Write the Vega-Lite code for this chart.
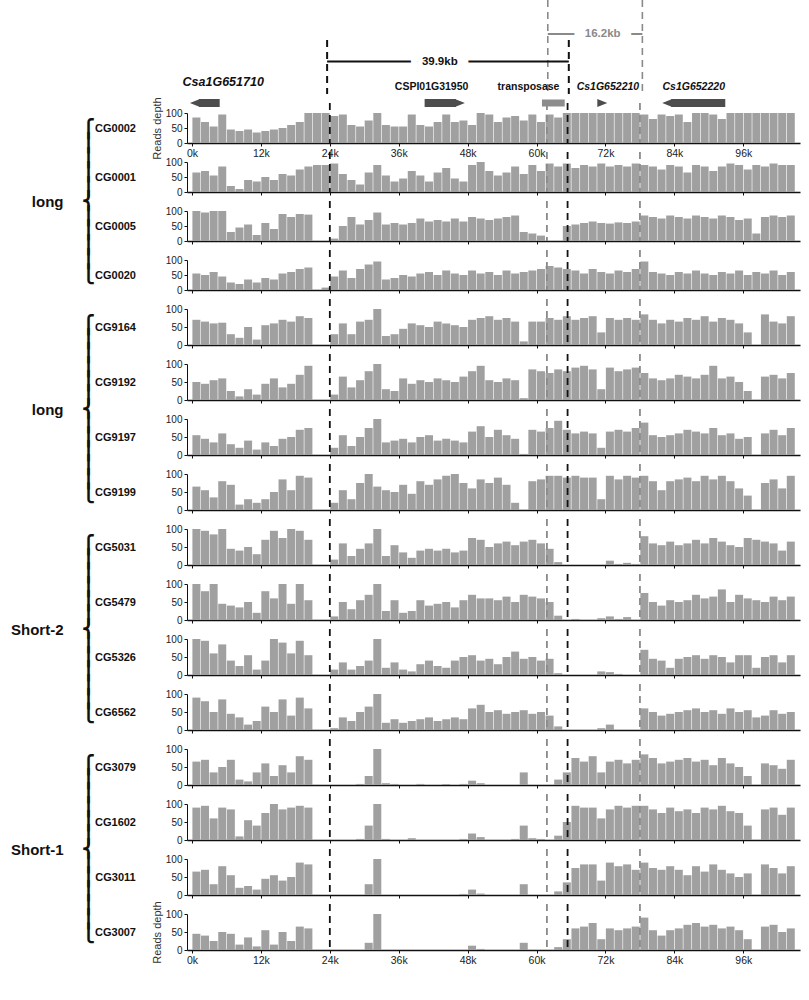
{
"$schema":"https://vega.github.io/schema/vega-lite/v6.json",
"autosize":"none",
"padding":{"left":187,"top":0,"right":622,"bottom":1000},
"background":"white",
"spacing":19,
"bounds":"flush",
"config":{
"view":{"stroke":null},
"font":"Liberation Sans",
"axisX":{"labels":false,"labelFlush":false,"grid":false,"domainColor":"#111","domainWidth":1.6,"tickColor":"#111","tickSize":3,"labelFontSize":10.5,"labelColor":"#222","labelPadding":2,"titleAngle":0,"titleAlign":"center","titleBaseline":"middle","titleFontWeight":"bold","titleFontSize":11,"titleColor":"#111"},
"axisY":{"labelFlush":false,"grid":false,"domainColor":"#111","tickColor":"#111","tickSize":3,"labelFontSize":10,"labelColor":"#222","labelPadding":2,"titleFontWeight":"normal","titleFontSize":11,"titleColor":"#333","titlePadding":3}
},
"datasets":{
"cuts":[{"pos":24,"k":"b"},{"pos":61.8,"k":"g"},{"pos":65.4,"k":"b"},{"pos":78,"k":"g"}],
"genes":[{"gene":"Csa1G651710","start":0.5,"end":5.6,"strand":"-","at":6.2},{"gene":"CSPI01G31950","start":40.7,"end":47.6,"strand":"+","at":41.9},{"gene":"transposase","start":60.8,"end":64.7,"strand":".","at":58.5},{"gene":"Cs1G652210","start":71.4,"end":72.0,"strand":"+","at":72.1},{"gene":"Cs1G652220","start":81.4,"end":92.2,"strand":"-","at":86.8}],
"brackets":[{"label":"39.9kb","start":24,"end":65.4,"at":43.3},{"label":"16.2kb","start":61.8,"end":78,"at":71.2}],
"CG0002":[{"x":0,"y":85},{"x":1.5,"y":70},{"x":3,"y":55},{"x":4.5,"y":95},{"x":6,"y":45},{"x":7.5,"y":40},{"x":9,"y":45},{"x":10.5,"y":35},{"x":12,"y":40},{"x":13.5,"y":45},{"x":15,"y":50},{"x":16.5,"y":60},{"x":18,"y":70},{"x":19.5,"y":100},{"x":21,"y":100},{"x":22.5,"y":100},{"x":24,"y":90},{"x":25.5,"y":95},{"x":27,"y":60},{"x":28.5,"y":55},{"x":30,"y":75},{"x":31.5,"y":100},{"x":33,"y":60},{"x":34.5,"y":55},{"x":36,"y":55},{"x":37.5,"y":95},{"x":39,"y":60},{"x":40.5,"y":55},{"x":42,"y":70},{"x":43.5,"y":95},{"x":45,"y":70},{"x":46.5,"y":75},{"x":48,"y":60},{"x":49.5,"y":100},{"x":51,"y":95},{"x":52.5,"y":70},{"x":54,"y":85},{"x":55.5,"y":90},{"x":57,"y":75},{"x":58.5,"y":95},{"x":60,"y":70},{"x":61.5,"y":95},{"x":63,"y":85},{"x":64.5,"y":100},{"x":66,"y":100},{"x":67.5,"y":100},{"x":69,"y":100},{"x":70.5,"y":100},{"x":72,"y":100},{"x":73.5,"y":100},{"x":75,"y":100},{"x":76.5,"y":100},{"x":78,"y":95},{"x":79.5,"y":80},{"x":81,"y":95},{"x":82.5,"y":90},{"x":84,"y":95},{"x":85.5,"y":70},{"x":87,"y":100},{"x":88.5,"y":100},{"x":90,"y":95},{"x":91.5,"y":80},{"x":93,"y":100},{"x":94.5,"y":100},{"x":96,"y":100},{"x":97.5,"y":100},{"x":99,"y":100},{"x":100.5,"y":100},{"x":102,"y":100},{"x":103.5,"y":100}],
"CG0001":[{"x":0,"y":65},{"x":1.5,"y":70},{"x":3,"y":55},{"x":4.5,"y":85},{"x":6,"y":20},{"x":7.5,"y":10},{"x":9,"y":40},{"x":10.5,"y":35},{"x":12,"y":50},{"x":13.5,"y":40},{"x":15,"y":60},{"x":16.5,"y":55},{"x":18,"y":75},{"x":19.5,"y":85},{"x":21,"y":90},{"x":22.5,"y":90},{"x":24,"y":95},{"x":25.5,"y":60},{"x":27,"y":40},{"x":28.5,"y":25},{"x":30,"y":65},{"x":31.5,"y":90},{"x":33,"y":55},{"x":34.5,"y":35},{"x":36,"y":45},{"x":37.5,"y":70},{"x":39,"y":55},{"x":40.5,"y":35},{"x":42,"y":65},{"x":43.5,"y":80},{"x":45,"y":45},{"x":46.5,"y":35},{"x":48,"y":90},{"x":49.5,"y":100},{"x":51,"y":70},{"x":52.5,"y":55},{"x":54,"y":65},{"x":55.5,"y":85},{"x":57,"y":60},{"x":58.5,"y":90},{"x":60,"y":70},{"x":61.5,"y":95},{"x":63,"y":85},{"x":64.5,"y":95},{"x":66,"y":80},{"x":67.5,"y":90},{"x":69,"y":85},{"x":70.5,"y":95},{"x":72,"y":85},{"x":73.5,"y":90},{"x":75,"y":85},{"x":76.5,"y":95},{"x":78,"y":90},{"x":79.5,"y":85},{"x":81,"y":75},{"x":82.5,"y":90},{"x":84,"y":85},{"x":85.5,"y":65},{"x":87,"y":90},{"x":88.5,"y":85},{"x":90,"y":70},{"x":91.5,"y":85},{"x":93,"y":95},{"x":94.5,"y":90},{"x":96,"y":75},{"x":97.5,"y":90},{"x":99,"y":85},{"x":100.5,"y":95},{"x":102,"y":90},{"x":103.5,"y":90}],
"CG0005":[{"x":0,"y":100},{"x":1.5,"y":95},{"x":3,"y":100},{"x":4.5,"y":100},{"x":6,"y":30},{"x":7.5,"y":45},{"x":9,"y":55},{"x":10.5,"y":20},{"x":12,"y":60},{"x":13.5,"y":40},{"x":15,"y":90},{"x":16.5,"y":80},{"x":18,"y":90},{"x":19.5,"y":88},{"x":24,"y":8},{"x":25.5,"y":50},{"x":27,"y":80},{"x":28.5,"y":55},{"x":30,"y":70},{"x":31.5,"y":95},{"x":33,"y":55},{"x":34.5,"y":60},{"x":36,"y":55},{"x":37.5,"y":60},{"x":39,"y":75},{"x":40.5,"y":65},{"x":42,"y":70},{"x":43.5,"y":65},{"x":45,"y":75},{"x":46.5,"y":65},{"x":48,"y":80},{"x":49.5,"y":75},{"x":51,"y":70},{"x":52.5,"y":75},{"x":54,"y":80},{"x":55.5,"y":85},{"x":57,"y":30},{"x":58.5,"y":25},{"x":60,"y":18},{"x":64.5,"y":50},{"x":66,"y":55},{"x":67.5,"y":60},{"x":69,"y":65},{"x":70.5,"y":60},{"x":72,"y":58},{"x":73.5,"y":62},{"x":75,"y":60},{"x":76.5,"y":65},{"x":78,"y":85},{"x":79.5,"y":80},{"x":81,"y":75},{"x":82.5,"y":85},{"x":84,"y":80},{"x":85.5,"y":75},{"x":87,"y":85},{"x":88.5,"y":80},{"x":90,"y":75},{"x":91.5,"y":85},{"x":93,"y":80},{"x":94.5,"y":70},{"x":96,"y":75},{"x":97.5,"y":25},{"x":99,"y":80},{"x":100.5,"y":85},{"x":102,"y":80},{"x":103.5,"y":85}],
"CG0020":[{"x":0,"y":55},{"x":1.5,"y":50},{"x":3,"y":60},{"x":4.5,"y":45},{"x":6,"y":25},{"x":7.5,"y":20},{"x":9,"y":35},{"x":10.5,"y":25},{"x":12,"y":40},{"x":13.5,"y":35},{"x":15,"y":55},{"x":16.5,"y":60},{"x":18,"y":70},{"x":19.5,"y":75},{"x":22.5,"y":8},{"x":24,"y":45},{"x":25.5,"y":65},{"x":27,"y":40},{"x":28.5,"y":70},{"x":30,"y":85},{"x":31.5,"y":95},{"x":33,"y":35},{"x":34.5,"y":40},{"x":36,"y":50},{"x":37.5,"y":45},{"x":39,"y":55},{"x":40.5,"y":60},{"x":42,"y":50},{"x":43.5,"y":65},{"x":45,"y":55},{"x":46.5,"y":50},{"x":48,"y":65},{"x":49.5,"y":55},{"x":51,"y":60},{"x":52.5,"y":50},{"x":54,"y":65},{"x":55.5,"y":55},{"x":57,"y":60},{"x":58.5,"y":65},{"x":60,"y":70},{"x":61.5,"y":80},{"x":63,"y":75},{"x":64.5,"y":70},{"x":66,"y":65},{"x":67.5,"y":55},{"x":69,"y":70},{"x":70.5,"y":60},{"x":72,"y":55},{"x":73.5,"y":65},{"x":75,"y":60},{"x":76.5,"y":70},{"x":78,"y":95},{"x":79.5,"y":60},{"x":81,"y":55},{"x":82.5,"y":50},{"x":84,"y":60},{"x":85.5,"y":55},{"x":87,"y":65},{"x":88.5,"y":55},{"x":90,"y":50},{"x":91.5,"y":60},{"x":93,"y":55},{"x":94.5,"y":65},{"x":96,"y":50},{"x":97.5,"y":60},{"x":99,"y":55},{"x":100.5,"y":65},{"x":102,"y":50},{"x":103.5,"y":60}],
"CG9164":[{"x":0,"y":70},{"x":1.5,"y":65},{"x":3,"y":60},{"x":4.5,"y":62},{"x":6,"y":30},{"x":7.5,"y":20},{"x":9,"y":50},{"x":10.5,"y":15},{"x":12,"y":55},{"x":13.5,"y":60},{"x":15,"y":70},{"x":16.5,"y":65},{"x":18,"y":80},{"x":19.5,"y":75},{"x":24,"y":30},{"x":25.5,"y":60},{"x":27,"y":30},{"x":28.5,"y":65},{"x":30,"y":70},{"x":31.5,"y":100},{"x":33,"y":25},{"x":34.5,"y":30},{"x":36,"y":45},{"x":37.5,"y":60},{"x":39,"y":55},{"x":40.5,"y":50},{"x":42,"y":65},{"x":43.5,"y":60},{"x":45,"y":55},{"x":46.5,"y":50},{"x":48,"y":70},{"x":49.5,"y":75},{"x":51,"y":80},{"x":52.5,"y":70},{"x":54,"y":75},{"x":55.5,"y":65},{"x":57,"y":10},{"x":58.5,"y":65},{"x":60,"y":65},{"x":61.5,"y":75},{"x":63,"y":70},{"x":64.5,"y":80},{"x":66,"y":70},{"x":67.5,"y":75},{"x":69,"y":80},{"x":70.5,"y":35},{"x":72,"y":75},{"x":73.5,"y":70},{"x":75,"y":75},{"x":76.5,"y":70},{"x":78,"y":85},{"x":79.5,"y":70},{"x":81,"y":60},{"x":82.5,"y":70},{"x":84,"y":65},{"x":85.5,"y":75},{"x":87,"y":70},{"x":88.5,"y":80},{"x":90,"y":65},{"x":91.5,"y":75},{"x":93,"y":70},{"x":94.5,"y":60},{"x":96,"y":35},{"x":99,"y":85},{"x":100.5,"y":65},{"x":102,"y":60},{"x":103.5,"y":80}],
"CG9192":[{"x":0,"y":50},{"x":1.5,"y":45},{"x":3,"y":55},{"x":4.5,"y":60},{"x":6,"y":25},{"x":7.5,"y":10},{"x":9,"y":30},{"x":10.5,"y":15},{"x":12,"y":45},{"x":13.5,"y":60},{"x":15,"y":35},{"x":16.5,"y":45},{"x":18,"y":70},{"x":19.5,"y":95},{"x":24,"y":15},{"x":25.5,"y":65},{"x":27,"y":35},{"x":28.5,"y":55},{"x":30,"y":80},{"x":31.5,"y":100},{"x":33,"y":30},{"x":34.5,"y":25},{"x":36,"y":60},{"x":37.5,"y":45},{"x":39,"y":55},{"x":40.5,"y":50},{"x":42,"y":60},{"x":43.5,"y":55},{"x":45,"y":50},{"x":46.5,"y":65},{"x":48,"y":80},{"x":49.5,"y":95},{"x":51,"y":55},{"x":52.5,"y":50},{"x":54,"y":60},{"x":55.5,"y":55},{"x":57,"y":5},{"x":58.5,"y":85},{"x":60,"y":80},{"x":61.5,"y":75},{"x":63,"y":85},{"x":64.5,"y":80},{"x":66,"y":90},{"x":67.5,"y":95},{"x":69,"y":85},{"x":70.5,"y":30},{"x":72,"y":90},{"x":73.5,"y":80},{"x":75,"y":85},{"x":76.5,"y":90},{"x":78,"y":75},{"x":79.5,"y":60},{"x":81,"y":55},{"x":82.5,"y":60},{"x":84,"y":70},{"x":85.5,"y":65},{"x":87,"y":60},{"x":88.5,"y":70},{"x":90,"y":95},{"x":91.5,"y":60},{"x":93,"y":65},{"x":94.5,"y":50},{"x":96,"y":25},{"x":99,"y":65},{"x":100.5,"y":70},{"x":102,"y":60},{"x":103.5,"y":75}],
"CG9197":[{"x":0,"y":55},{"x":1.5,"y":45},{"x":3,"y":35},{"x":4.5,"y":60},{"x":6,"y":30},{"x":7.5,"y":20},{"x":9,"y":40},{"x":10.5,"y":15},{"x":12,"y":35},{"x":13.5,"y":25},{"x":15,"y":45},{"x":16.5,"y":50},{"x":18,"y":70},{"x":19.5,"y":75},{"x":24,"y":20},{"x":25.5,"y":55},{"x":27,"y":25},{"x":28.5,"y":50},{"x":30,"y":75},{"x":31.5,"y":100},{"x":33,"y":35},{"x":34.5,"y":40},{"x":36,"y":45},{"x":37.5,"y":35},{"x":39,"y":50},{"x":40.5,"y":55},{"x":42,"y":40},{"x":43.5,"y":45},{"x":45,"y":40},{"x":46.5,"y":35},{"x":48,"y":65},{"x":49.5,"y":80},{"x":51,"y":50},{"x":52.5,"y":70},{"x":54,"y":55},{"x":55.5,"y":45},{"x":57,"y":3},{"x":58.5,"y":70},{"x":60,"y":65},{"x":61.5,"y":75},{"x":63,"y":95},{"x":64.5,"y":70},{"x":66,"y":60},{"x":67.5,"y":65},{"x":69,"y":60},{"x":70.5,"y":20},{"x":72,"y":65},{"x":73.5,"y":70},{"x":75,"y":65},{"x":76.5,"y":75},{"x":78,"y":90},{"x":79.5,"y":55},{"x":81,"y":50},{"x":82.5,"y":55},{"x":84,"y":60},{"x":85.5,"y":70},{"x":87,"y":65},{"x":88.5,"y":60},{"x":90,"y":75},{"x":91.5,"y":55},{"x":93,"y":60},{"x":94.5,"y":45},{"x":96,"y":50},{"x":99,"y":60},{"x":100.5,"y":70},{"x":102,"y":55},{"x":103.5,"y":75}],
"CG9199":[{"x":0,"y":65},{"x":1.5,"y":55},{"x":3,"y":35},{"x":4.5,"y":80},{"x":6,"y":70},{"x":7.5,"y":15},{"x":9,"y":30},{"x":10.5,"y":20},{"x":12,"y":30},{"x":13.5,"y":50},{"x":15,"y":85},{"x":16.5,"y":55},{"x":18,"y":95},{"x":19.5,"y":90},{"x":24,"y":20},{"x":25.5,"y":55},{"x":27,"y":30},{"x":28.5,"y":75},{"x":30,"y":100},{"x":31.5,"y":65},{"x":33,"y":55},{"x":34.5,"y":50},{"x":36,"y":70},{"x":37.5,"y":45},{"x":39,"y":80},{"x":40.5,"y":70},{"x":42,"y":85},{"x":43.5,"y":95},{"x":45,"y":100},{"x":46.5,"y":75},{"x":48,"y":60},{"x":49.5,"y":85},{"x":51,"y":75},{"x":52.5,"y":90},{"x":54,"y":70},{"x":55.5,"y":20},{"x":58.5,"y":80},{"x":60,"y":85},{"x":61.5,"y":95},{"x":63,"y":95},{"x":64.5,"y":90},{"x":66,"y":95},{"x":67.5,"y":90},{"x":69,"y":90},{"x":70.5,"y":30},{"x":72,"y":95},{"x":73.5,"y":85},{"x":75,"y":95},{"x":76.5,"y":90},{"x":78,"y":95},{"x":79.5,"y":80},{"x":81,"y":55},{"x":82.5,"y":80},{"x":84,"y":85},{"x":85.5,"y":90},{"x":87,"y":80},{"x":88.5,"y":95},{"x":90,"y":85},{"x":91.5,"y":95},{"x":93,"y":80},{"x":94.5,"y":60},{"x":96,"y":40},{"x":99,"y":75},{"x":100.5,"y":85},{"x":102,"y":60},{"x":103.5,"y":95}],
"CG5031":[{"x":0,"y":100},{"x":1.5,"y":95},{"x":3,"y":85},{"x":4.5,"y":100},{"x":6,"y":45},{"x":7.5,"y":40},{"x":9,"y":50},{"x":10.5,"y":30},{"x":12,"y":70},{"x":13.5,"y":95},{"x":15,"y":75},{"x":16.5,"y":100},{"x":18,"y":95},{"x":19.5,"y":70},{"x":24,"y":15},{"x":25.5,"y":60},{"x":27,"y":25},{"x":28.5,"y":45},{"x":30,"y":60},{"x":31.5,"y":100},{"x":33,"y":25},{"x":34.5,"y":55},{"x":36,"y":35},{"x":37.5,"y":20},{"x":39,"y":40},{"x":40.5,"y":45},{"x":42,"y":40},{"x":43.5,"y":45},{"x":45,"y":35},{"x":46.5,"y":40},{"x":48,"y":75},{"x":49.5,"y":70},{"x":51,"y":50},{"x":52.5,"y":60},{"x":54,"y":65},{"x":55.5,"y":55},{"x":57,"y":65},{"x":58.5,"y":70},{"x":60,"y":60},{"x":61.5,"y":45},{"x":63,"y":8},{"x":72,"y":12},{"x":73.5,"y":3},{"x":75,"y":6},{"x":76.5,"y":3},{"x":78,"y":80},{"x":79.5,"y":60},{"x":81,"y":55},{"x":82.5,"y":65},{"x":84,"y":55},{"x":85.5,"y":60},{"x":87,"y":70},{"x":88.5,"y":60},{"x":90,"y":75},{"x":91.5,"y":65},{"x":93,"y":55},{"x":94.5,"y":50},{"x":96,"y":75},{"x":97.5,"y":70},{"x":99,"y":65},{"x":100.5,"y":60},{"x":102,"y":40},{"x":103.5,"y":65}],
"CG5479":[{"x":0,"y":100},{"x":1.5,"y":80},{"x":3,"y":100},{"x":4.5,"y":45},{"x":6,"y":40},{"x":7.5,"y":35},{"x":9,"y":50},{"x":10.5,"y":20},{"x":12,"y":80},{"x":13.5,"y":60},{"x":15,"y":100},{"x":16.5,"y":45},{"x":18,"y":100},{"x":19.5,"y":55},{"x":24,"y":10},{"x":25.5,"y":50},{"x":27,"y":30},{"x":28.5,"y":55},{"x":30,"y":70},{"x":31.5,"y":100},{"x":33,"y":25},{"x":34.5,"y":55},{"x":36,"y":20},{"x":37.5,"y":25},{"x":39,"y":55},{"x":40.5,"y":40},{"x":42,"y":45},{"x":43.5,"y":50},{"x":45,"y":35},{"x":46.5,"y":55},{"x":48,"y":70},{"x":49.5,"y":60},{"x":51,"y":60},{"x":52.5,"y":55},{"x":54,"y":65},{"x":55.5,"y":50},{"x":57,"y":70},{"x":58.5,"y":65},{"x":60,"y":60},{"x":61.5,"y":50},{"x":63,"y":12},{"x":66,"y":3},{"x":70.5,"y":5},{"x":72,"y":10},{"x":73.5,"y":3},{"x":75,"y":8},{"x":78,"y":75},{"x":79.5,"y":50},{"x":81,"y":40},{"x":82.5,"y":55},{"x":84,"y":50},{"x":85.5,"y":55},{"x":87,"y":70},{"x":88.5,"y":60},{"x":90,"y":65},{"x":91.5,"y":85},{"x":93,"y":50},{"x":94.5,"y":70},{"x":96,"y":60},{"x":97.5,"y":55},{"x":99,"y":50},{"x":100.5,"y":65},{"x":102,"y":55},{"x":103.5,"y":65}],
"CG5326":[{"x":0,"y":100},{"x":1.5,"y":95},{"x":3,"y":60},{"x":4.5,"y":85},{"x":6,"y":40},{"x":7.5,"y":25},{"x":9,"y":55},{"x":10.5,"y":15},{"x":12,"y":40},{"x":13.5,"y":100},{"x":15,"y":90},{"x":16.5,"y":60},{"x":18,"y":95},{"x":19.5,"y":55},{"x":24,"y":15},{"x":25.5,"y":35},{"x":27,"y":15},{"x":28.5,"y":25},{"x":30,"y":40},{"x":31.5,"y":100},{"x":33,"y":20},{"x":34.5,"y":35},{"x":36,"y":15},{"x":37.5,"y":10},{"x":39,"y":30},{"x":40.5,"y":40},{"x":42,"y":25},{"x":43.5,"y":20},{"x":45,"y":40},{"x":46.5,"y":50},{"x":48,"y":55},{"x":49.5,"y":40},{"x":51,"y":45},{"x":52.5,"y":30},{"x":54,"y":50},{"x":55.5,"y":65},{"x":57,"y":45},{"x":58.5,"y":50},{"x":60,"y":40},{"x":61.5,"y":45},{"x":63,"y":5},{"x":70.5,"y":10},{"x":72,"y":8},{"x":73.5,"y":3},{"x":78,"y":70},{"x":79.5,"y":45},{"x":81,"y":40},{"x":82.5,"y":20},{"x":84,"y":45},{"x":85.5,"y":50},{"x":87,"y":55},{"x":88.5,"y":45},{"x":90,"y":55},{"x":91.5,"y":50},{"x":93,"y":35},{"x":94.5,"y":55},{"x":96,"y":55},{"x":97.5,"y":20},{"x":99,"y":50},{"x":100.5,"y":55},{"x":102,"y":35},{"x":103.5,"y":55}],
"CG6562":[{"x":0,"y":90},{"x":1.5,"y":80},{"x":3,"y":50},{"x":4.5,"y":85},{"x":6,"y":45},{"x":7.5,"y":35},{"x":9,"y":15},{"x":10.5,"y":25},{"x":12,"y":65},{"x":13.5,"y":50},{"x":15,"y":85},{"x":16.5,"y":40},{"x":18,"y":90},{"x":19.5,"y":60},{"x":24,"y":5},{"x":25.5,"y":35},{"x":27,"y":25},{"x":28.5,"y":50},{"x":30,"y":65},{"x":31.5,"y":100},{"x":33,"y":20},{"x":34.5,"y":30},{"x":36,"y":20},{"x":37.5,"y":25},{"x":39,"y":30},{"x":40.5,"y":35},{"x":42,"y":25},{"x":43.5,"y":30},{"x":45,"y":35},{"x":46.5,"y":30},{"x":48,"y":60},{"x":49.5,"y":70},{"x":51,"y":50},{"x":52.5,"y":55},{"x":54,"y":45},{"x":55.5,"y":50},{"x":57,"y":55},{"x":58.5,"y":45},{"x":60,"y":50},{"x":61.5,"y":40},{"x":63,"y":10},{"x":70.5,"y":5},{"x":72,"y":15},{"x":78,"y":60},{"x":79.5,"y":50},{"x":81,"y":40},{"x":82.5,"y":45},{"x":84,"y":50},{"x":85.5,"y":55},{"x":87,"y":60},{"x":88.5,"y":50},{"x":90,"y":55},{"x":91.5,"y":45},{"x":93,"y":60},{"x":94.5,"y":50},{"x":96,"y":55},{"x":97.5,"y":35},{"x":99,"y":40},{"x":100.5,"y":55},{"x":102,"y":45},{"x":103.5,"y":50}],
"CG3079":[{"x":0,"y":65},{"x":1.5,"y":70},{"x":3,"y":35},{"x":4.5,"y":50},{"x":6,"y":70},{"x":7.5,"y":15},{"x":9,"y":10},{"x":10.5,"y":35},{"x":12,"y":60},{"x":13.5,"y":25},{"x":15,"y":55},{"x":16.5,"y":35},{"x":18,"y":80},{"x":19.5,"y":70},{"x":28.5,"y":3},{"x":30,"y":25},{"x":31.5,"y":100},{"x":33,"y":5},{"x":34.5,"y":3},{"x":39,"y":3},{"x":43.5,"y":3},{"x":46.5,"y":3},{"x":48,"y":12},{"x":49.5,"y":5},{"x":57,"y":35},{"x":63,"y":15},{"x":64.5,"y":35},{"x":66,"y":75},{"x":67.5,"y":65},{"x":69,"y":80},{"x":70.5,"y":35},{"x":72,"y":65},{"x":73.5,"y":70},{"x":75,"y":60},{"x":76.5,"y":70},{"x":78,"y":85},{"x":79.5,"y":75},{"x":81,"y":60},{"x":82.5,"y":65},{"x":84,"y":70},{"x":85.5,"y":75},{"x":87,"y":65},{"x":88.5,"y":70},{"x":90,"y":55},{"x":91.5,"y":75},{"x":93,"y":60},{"x":94.5,"y":50},{"x":96,"y":25},{"x":99,"y":60},{"x":100.5,"y":55},{"x":102,"y":45},{"x":103.5,"y":70}],
"CG1602":[{"x":0,"y":90},{"x":1.5,"y":95},{"x":3,"y":60},{"x":4.5,"y":90},{"x":6,"y":85},{"x":7.5,"y":10},{"x":9,"y":55},{"x":10.5,"y":40},{"x":12,"y":75},{"x":13.5,"y":100},{"x":15,"y":85},{"x":16.5,"y":90},{"x":18,"y":95},{"x":19.5,"y":90},{"x":28.5,"y":3},{"x":30,"y":40},{"x":31.5,"y":100},{"x":33,"y":3},{"x":37.5,"y":5},{"x":46.5,"y":3},{"x":48,"y":18},{"x":49.5,"y":8},{"x":55.5,"y":3},{"x":57,"y":40},{"x":58.5,"y":5},{"x":60,"y":3},{"x":63,"y":12},{"x":64.5,"y":50},{"x":66,"y":95},{"x":67.5,"y":90},{"x":69,"y":90},{"x":70.5,"y":60},{"x":72,"y":85},{"x":73.5,"y":95},{"x":75,"y":90},{"x":76.5,"y":95},{"x":78,"y":95},{"x":79.5,"y":85},{"x":81,"y":75},{"x":82.5,"y":90},{"x":84,"y":80},{"x":85.5,"y":85},{"x":87,"y":75},{"x":88.5,"y":90},{"x":90,"y":85},{"x":91.5,"y":95},{"x":93,"y":80},{"x":94.5,"y":75},{"x":96,"y":40},{"x":99,"y":85},{"x":100.5,"y":90},{"x":102,"y":70},{"x":103.5,"y":90}],
"CG3011":[{"x":0,"y":65},{"x":1.5,"y":70},{"x":3,"y":30},{"x":4.5,"y":80},{"x":6,"y":55},{"x":7.5,"y":20},{"x":9,"y":25},{"x":10.5,"y":15},{"x":12,"y":45},{"x":13.5,"y":55},{"x":15,"y":40},{"x":16.5,"y":50},{"x":18,"y":90},{"x":19.5,"y":85},{"x":30,"y":30},{"x":31.5,"y":100},{"x":46.5,"y":3},{"x":48,"y":15},{"x":49.5,"y":4},{"x":57,"y":30},{"x":63,"y":10},{"x":64.5,"y":35},{"x":66,"y":75},{"x":67.5,"y":85},{"x":69,"y":85},{"x":70.5,"y":40},{"x":72,"y":90},{"x":73.5,"y":80},{"x":75,"y":85},{"x":76.5,"y":70},{"x":78,"y":90},{"x":79.5,"y":75},{"x":81,"y":70},{"x":82.5,"y":80},{"x":84,"y":70},{"x":85.5,"y":55},{"x":87,"y":80},{"x":88.5,"y":65},{"x":90,"y":85},{"x":91.5,"y":70},{"x":93,"y":60},{"x":94.5,"y":50},{"x":96,"y":60},{"x":99,"y":85},{"x":100.5,"y":75},{"x":102,"y":60},{"x":103.5,"y":80}],
"CG3007":[{"x":0,"y":45},{"x":1.5,"y":40},{"x":3,"y":25},{"x":4.5,"y":50},{"x":6,"y":45},{"x":7.5,"y":15},{"x":9,"y":35},{"x":10.5,"y":10},{"x":12,"y":55},{"x":13.5,"y":15},{"x":15,"y":50},{"x":16.5,"y":25},{"x":18,"y":65},{"x":19.5,"y":60},{"x":30,"y":20},{"x":31.5,"y":100},{"x":48,"y":12},{"x":49.5,"y":3},{"x":57,"y":20},{"x":63,"y":8},{"x":64.5,"y":30},{"x":66,"y":60},{"x":67.5,"y":65},{"x":69,"y":75},{"x":70.5,"y":30},{"x":72,"y":60},{"x":73.5,"y":55},{"x":75,"y":60},{"x":76.5,"y":65},{"x":78,"y":90},{"x":79.5,"y":55},{"x":81,"y":40},{"x":82.5,"y":55},{"x":84,"y":60},{"x":85.5,"y":70},{"x":87,"y":75},{"x":88.5,"y":65},{"x":90,"y":70},{"x":91.5,"y":60},{"x":93,"y":65},{"x":94.5,"y":55},{"x":96,"y":30},{"x":99,"y":65},{"x":100.5,"y":70},{"x":102,"y":50},{"x":103.5,"y":60}]
},
"vconcat":[
{"width":613,"height":94,"layer":[
{"data":{"name":"cuts"},"transform":[{"filter":"datum.k == 'g'"}],"mark":{"type":"rule","color":"#8a8a8a","strokeWidth":1.6,"strokeDash":[7,5],"y2Offset":10},"encoding":{"x":{"field":"pos","type":"quantitative","scale":{"domain":[0,105],"nice":false,"zero":false},"axis":null}}},
{"data":{"name":"cuts"},"transform":[{"filter":"datum.k == 'b'"}],"mark":{"type":"rule","color":"#111111","strokeWidth":2,"strokeDash":[7,5],"yOffset":40,"y2Offset":10},"encoding":{"x":{"field":"pos","type":"quantitative"}}},
{"data":{"name":"brackets"},"mark":{"type":"rule","strokeWidth":2},"encoding":{"x":{"field":"start","type":"quantitative"},"x2":{"field":"end"},"y":{"field":"label","type":"nominal","scale":{"type":"point","domain":["16.2kb","s1","39.9kb","s2","labels","genes"],"range":[34,103],"padding":0},"axis":null},"color":{"field":"label","type":"nominal","scale":{"domain":["39.9kb","16.2kb"],"range":["#111111","#8a8a8a"]},"legend":null}}},
{"data":{"name":"brackets"},"mark":{"type":"text","color":"white","stroke":"white","strokeWidth":22,"fontSize":11.5,"fontWeight":"bold","baseline":"middle"},"encoding":{"x":{"field":"at","type":"quantitative"},"y":{"field":"label","type":"nominal"},"text":{"field":"label"}}},
{"data":{"name":"brackets"},"mark":{"type":"text","fontSize":11.5,"fontWeight":"bold","baseline":"middle"},"encoding":{"x":{"field":"at","type":"quantitative"},"y":{"field":"label","type":"nominal"},"text":{"field":"label"},"color":{"field":"label","type":"nominal","legend":null}}},
{"data":{"name":"genes"},"transform":[{"filter":"datum.strand == '-'"}],"mark":{"type":"rule","color":"#4d4d4d","strokeWidth":8,"strokeCap":"butt","xOffset":9},"encoding":{"x":{"field":"start","type":"quantitative"},"x2":{"field":"end"},"y":{"datum":"genes","type":"nominal"}}},
{"data":{"name":"genes"},"transform":[{"filter":"datum.strand == '+' && datum.end - datum.start > 2"}],"mark":{"type":"rule","color":"#4d4d4d","strokeWidth":8,"strokeCap":"butt","x2Offset":-9},"encoding":{"x":{"field":"start","type":"quantitative"},"x2":{"field":"end"},"y":{"datum":"genes","type":"nominal"}}},
{"data":{"name":"genes"},"transform":[{"filter":"datum.strand == '.'"}],"mark":{"type":"rule","color":"#8c8c8c","strokeWidth":7,"strokeCap":"butt"},"encoding":{"x":{"field":"start","type":"quantitative"},"x2":{"field":"end"},"y":{"datum":"genes","type":"nominal"}}},
{"data":{"name":"genes"},"transform":[{"filter":"datum.strand == '-'"}],"mark":{"type":"point","shape":"M-1,0L1,-0.8L1,0.8Z","size":100,"filled":true,"opacity":1,"color":"#4d4d4d","xOffset":5},"encoding":{"x":{"field":"start","type":"quantitative"},"y":{"datum":"genes","type":"nominal"}}},
{"data":{"name":"genes"},"transform":[{"filter":"datum.strand == '+'"}],"mark":{"type":"point","shape":"M1,0L-1,-0.8L-1,0.8Z","size":100,"filled":true,"opacity":1,"color":"#4d4d4d","xOffset":-5},"encoding":{"x":{"field":"end","type":"quantitative"},"y":{"datum":"genes","type":"nominal"}}},
{"data":{"name":"genes"},"transform":[{"filter":"datum.gene == 'Csa1G651710'"}],"mark":{"type":"text","fontSize":12.5,"fontWeight":"bold","fontStyle":"italic","color":"#111","baseline":"middle","dy":-7},"encoding":{"x":{"field":"at","type":"quantitative"},"y":{"datum":"labels","type":"nominal"},"text":{"field":"gene"}}},
{"data":{"name":"genes"},"transform":[{"filter":"datum.gene == 'CSPI01G31950' || datum.gene == 'transposase'"}],"mark":{"type":"text","fontSize":10.5,"fontWeight":"bold","color":"#111","baseline":"middle","dy":-2},"encoding":{"x":{"field":"at","type":"quantitative"},"y":{"datum":"labels","type":"nominal"},"text":{"field":"gene"}}},
{"data":{"name":"genes"},"transform":[{"filter":"datum.gene == 'Cs1G652210' || datum.gene == 'Cs1G652220'"}],"mark":{"type":"text","fontSize":10.5,"fontWeight":"bold","fontStyle":"italic","color":"#111","baseline":"middle","dy":-2},"encoding":{"x":{"field":"at","type":"quantitative"},"y":{"datum":"labels","type":"nominal"},"text":{"field":"gene"}}}
]},
{"width":613,"height":30,"layer":[
{"data":{"name":"CG0002"},"mark":{"type":"bar","width":8,"xOffset":4.4,"color":"#a0a0a0"},"encoding":{"x":{"field":"x","type":"quantitative","scale":{"domain":[0,105],"nice":false,"zero":false},"axis":{"values":[0,12,24,36,48,60,72,84,96],"labels":true,"labelExpr":"datum.value + 'k'","title":"CG0002","titleX":-72,"titleY":-15}},"y":{"field":"y","type":"quantitative","scale":{"domain":[0,100],"nice":false},"axis":{"values":[0,50,100],"title":"Reads depth"}}}},
{"data":{"name":"cuts"},"mark":{"type":"rule","strokeDash":[7,5],"strokeWidth":1.8,"yOffset":-10,"y2Offset":10},"encoding":{"x":{"field":"pos","type":"quantitative"},"color":{"field":"k","type":"nominal","scale":{"domain":["b","g"],"range":["#111111","#8a8a8a"]},"legend":null}}}
]},
{"width":613,"height":30,"layer":[
{"data":{"name":"CG0001"},"mark":{"type":"bar","width":8,"xOffset":4.4,"color":"#a0a0a0"},"encoding":{"x":{"field":"x","type":"quantitative","scale":{"domain":[0,105],"nice":false,"zero":false},"axis":{"values":[0,12,24,36,48,60,72,84,96],"title":"CG0001","titleX":-72,"titleY":-15}},"y":{"field":"y","type":"quantitative","scale":{"domain":[0,100],"nice":false},"axis":{"values":[0,50,100],"title":"long","titleAngle":0,"titleAlign":"right","titleBaseline":"middle","titleX":-124,"titleY":39.5,"titleFontSize":15,"titleFontWeight":"bold","titleColor":"#111"}}}},
{"data":{"name":"cuts"},"mark":{"type":"rule","strokeDash":[7,5],"strokeWidth":1.8,"yOffset":-10,"y2Offset":10},"encoding":{"x":{"field":"pos","type":"quantitative"},"color":{"field":"k","type":"nominal","scale":{"domain":["b","g"],"range":["#111111","#8a8a8a"]},"legend":null}}}
]},
{"width":613,"height":30,"layer":[
{"data":{"name":"CG0005"},"mark":{"type":"bar","width":8,"xOffset":4.4,"color":"#a0a0a0"},"encoding":{"x":{"field":"x","type":"quantitative","scale":{"domain":[0,105],"nice":false,"zero":false},"axis":{"values":[0,12,24,36,48,60,72,84,96],"title":"CG0005","titleX":-72,"titleY":-15}},"y":{"field":"y","type":"quantitative","scale":{"domain":[0,100],"nice":false},"axis":{"values":[0,50,100],"title":["⎧","⎪","⎪","⎪","⎪","⎨","⎪","⎪","⎪","⎪","⎩"],"titleAngle":0,"titleAlign":"center","titleBaseline":"middle","titleX":-99,"titleY":-82,"titleFontSize":18,"titleLineHeight":14.5,"titleFont":"DejaVu Sans","titleFontWeight":"bold","titleColor":"#111"}}}},
{"data":{"name":"cuts"},"mark":{"type":"rule","strokeDash":[7,5],"strokeWidth":1.8,"yOffset":-10,"y2Offset":10},"encoding":{"x":{"field":"pos","type":"quantitative"},"color":{"field":"k","type":"nominal","scale":{"domain":["b","g"],"range":["#111111","#8a8a8a"]},"legend":null}}}
]},
{"width":613,"height":30,"layer":[
{"data":{"name":"CG0020"},"mark":{"type":"bar","width":8,"xOffset":4.4,"color":"#a0a0a0"},"encoding":{"x":{"field":"x","type":"quantitative","scale":{"domain":[0,105],"nice":false,"zero":false},"axis":{"values":[0,12,24,36,48,60,72,84,96],"title":"CG0020","titleX":-72,"titleY":-15}},"y":{"field":"y","type":"quantitative","scale":{"domain":[0,100],"nice":false},"axis":{"values":[0,50,100],"title":null}}}},
{"data":{"name":"cuts"},"mark":{"type":"rule","strokeDash":[7,5],"strokeWidth":1.8,"yOffset":-10,"y2Offset":10},"encoding":{"x":{"field":"pos","type":"quantitative"},"color":{"field":"k","type":"nominal","scale":{"domain":["b","g"],"range":["#111111","#8a8a8a"]},"legend":null}}}
]},
{"width":613,"height":36,"layer":[
{"data":{"name":"CG9164"},"mark":{"type":"bar","width":8,"xOffset":4.4,"color":"#a0a0a0"},"encoding":{"x":{"field":"x","type":"quantitative","scale":{"domain":[0,105],"nice":false,"zero":false},"axis":{"values":[0,12,24,36,48,60,72,84,96],"title":"CG9164","titleX":-72,"titleY":-18}},"y":{"field":"y","type":"quantitative","scale":{"domain":[0,100],"nice":false},"axis":{"values":[0,50,100],"title":null}}}},
{"data":{"name":"cuts"},"mark":{"type":"rule","strokeDash":[7,5],"strokeWidth":1.8,"yOffset":-10,"y2Offset":10},"encoding":{"x":{"field":"pos","type":"quantitative"},"color":{"field":"k","type":"nominal","scale":{"domain":["b","g"],"range":["#111111","#8a8a8a"]},"legend":null}}}
]},
{"width":613,"height":36,"layer":[
{"data":{"name":"CG9192"},"mark":{"type":"bar","width":8,"xOffset":4.4,"color":"#a0a0a0"},"encoding":{"x":{"field":"x","type":"quantitative","scale":{"domain":[0,105],"nice":false,"zero":false},"axis":{"values":[0,12,24,36,48,60,72,84,96],"title":"CG9192","titleX":-72,"titleY":-18}},"y":{"field":"y","type":"quantitative","scale":{"domain":[0,100],"nice":false},"axis":{"values":[0,50,100],"title":"long","titleAngle":0,"titleAlign":"right","titleBaseline":"middle","titleX":-124,"titleY":45.5,"titleFontSize":15,"titleFontWeight":"bold","titleColor":"#111"}}}},
{"data":{"name":"cuts"},"mark":{"type":"rule","strokeDash":[7,5],"strokeWidth":1.8,"yOffset":-10,"y2Offset":10},"encoding":{"x":{"field":"pos","type":"quantitative"},"color":{"field":"k","type":"nominal","scale":{"domain":["b","g"],"range":["#111111","#8a8a8a"]},"legend":null}}}
]},
{"width":613,"height":36,"layer":[
{"data":{"name":"CG9197"},"mark":{"type":"bar","width":8,"xOffset":4.4,"color":"#a0a0a0"},"encoding":{"x":{"field":"x","type":"quantitative","scale":{"domain":[0,105],"nice":false,"zero":false},"axis":{"values":[0,12,24,36,48,60,72,84,96],"title":"CG9197","titleX":-72,"titleY":-18}},"y":{"field":"y","type":"quantitative","scale":{"domain":[0,100],"nice":false},"axis":{"values":[0,50,100],"title":["⎧","⎪","⎪","⎪","⎪","⎪","⎨","⎪","⎪","⎪","⎪","⎪","⎩"],"titleAngle":0,"titleAlign":"center","titleBaseline":"middle","titleX":-99,"titleY":-93.5,"titleFontSize":18,"titleLineHeight":14,"titleFont":"DejaVu Sans","titleFontWeight":"bold","titleColor":"#111"}}}},
{"data":{"name":"cuts"},"mark":{"type":"rule","strokeDash":[7,5],"strokeWidth":1.8,"yOffset":-10,"y2Offset":10},"encoding":{"x":{"field":"pos","type":"quantitative"},"color":{"field":"k","type":"nominal","scale":{"domain":["b","g"],"range":["#111111","#8a8a8a"]},"legend":null}}}
]},
{"width":613,"height":36,"layer":[
{"data":{"name":"CG9199"},"mark":{"type":"bar","width":8,"xOffset":4.4,"color":"#a0a0a0"},"encoding":{"x":{"field":"x","type":"quantitative","scale":{"domain":[0,105],"nice":false,"zero":false},"axis":{"values":[0,12,24,36,48,60,72,84,96],"title":"CG9199","titleX":-72,"titleY":-18}},"y":{"field":"y","type":"quantitative","scale":{"domain":[0,100],"nice":false},"axis":{"values":[0,50,100],"title":null}}}},
{"data":{"name":"cuts"},"mark":{"type":"rule","strokeDash":[7,5],"strokeWidth":1.8,"yOffset":-10,"y2Offset":10},"encoding":{"x":{"field":"pos","type":"quantitative"},"color":{"field":"k","type":"nominal","scale":{"domain":["b","g"],"range":["#111111","#8a8a8a"]},"legend":null}}}
]},
{"width":613,"height":36,"layer":[
{"data":{"name":"CG5031"},"mark":{"type":"bar","width":8,"xOffset":4.4,"color":"#a0a0a0"},"encoding":{"x":{"field":"x","type":"quantitative","scale":{"domain":[0,105],"nice":false,"zero":false},"axis":{"values":[0,12,24,36,48,60,72,84,96],"title":"CG5031","titleX":-72,"titleY":-18}},"y":{"field":"y","type":"quantitative","scale":{"domain":[0,100],"nice":false},"axis":{"values":[0,50,100],"title":null}}}},
{"data":{"name":"cuts"},"mark":{"type":"rule","strokeDash":[7,5],"strokeWidth":1.8,"yOffset":-10,"y2Offset":10},"encoding":{"x":{"field":"pos","type":"quantitative"},"color":{"field":"k","type":"nominal","scale":{"domain":["b","g"],"range":["#111111","#8a8a8a"]},"legend":null}}}
]},
{"width":613,"height":36,"layer":[
{"data":{"name":"CG5479"},"mark":{"type":"bar","width":8,"xOffset":4.4,"color":"#a0a0a0"},"encoding":{"x":{"field":"x","type":"quantitative","scale":{"domain":[0,105],"nice":false,"zero":false},"axis":{"values":[0,12,24,36,48,60,72,84,96],"title":"CG5479","titleX":-72,"titleY":-18}},"y":{"field":"y","type":"quantitative","scale":{"domain":[0,100],"nice":false},"axis":{"values":[0,50,100],"title":"Short-2","titleAngle":0,"titleAlign":"right","titleBaseline":"middle","titleX":-124,"titleY":45.5,"titleFontSize":15,"titleFontWeight":"bold","titleColor":"#111"}}}},
{"data":{"name":"cuts"},"mark":{"type":"rule","strokeDash":[7,5],"strokeWidth":1.8,"yOffset":-10,"y2Offset":10},"encoding":{"x":{"field":"pos","type":"quantitative"},"color":{"field":"k","type":"nominal","scale":{"domain":["b","g"],"range":["#111111","#8a8a8a"]},"legend":null}}}
]},
{"width":613,"height":36,"layer":[
{"data":{"name":"CG5326"},"mark":{"type":"bar","width":8,"xOffset":4.4,"color":"#a0a0a0"},"encoding":{"x":{"field":"x","type":"quantitative","scale":{"domain":[0,105],"nice":false,"zero":false},"axis":{"values":[0,12,24,36,48,60,72,84,96],"title":"CG5326","titleX":-72,"titleY":-18}},"y":{"field":"y","type":"quantitative","scale":{"domain":[0,100],"nice":false},"axis":{"values":[0,50,100],"title":["⎧","⎪","⎪","⎪","⎪","⎪","⎨","⎪","⎪","⎪","⎪","⎪","⎩"],"titleAngle":0,"titleAlign":"center","titleBaseline":"middle","titleX":-99,"titleY":-93.5,"titleFontSize":18,"titleLineHeight":14,"titleFont":"DejaVu Sans","titleFontWeight":"bold","titleColor":"#111"}}}},
{"data":{"name":"cuts"},"mark":{"type":"rule","strokeDash":[7,5],"strokeWidth":1.8,"yOffset":-10,"y2Offset":10},"encoding":{"x":{"field":"pos","type":"quantitative"},"color":{"field":"k","type":"nominal","scale":{"domain":["b","g"],"range":["#111111","#8a8a8a"]},"legend":null}}}
]},
{"width":613,"height":36,"layer":[
{"data":{"name":"CG6562"},"mark":{"type":"bar","width":8,"xOffset":4.4,"color":"#a0a0a0"},"encoding":{"x":{"field":"x","type":"quantitative","scale":{"domain":[0,105],"nice":false,"zero":false},"axis":{"values":[0,12,24,36,48,60,72,84,96],"title":"CG6562","titleX":-72,"titleY":-18}},"y":{"field":"y","type":"quantitative","scale":{"domain":[0,100],"nice":false},"axis":{"values":[0,50,100],"title":null}}}},
{"data":{"name":"cuts"},"mark":{"type":"rule","strokeDash":[7,5],"strokeWidth":1.8,"yOffset":-10,"y2Offset":10},"encoding":{"x":{"field":"pos","type":"quantitative"},"color":{"field":"k","type":"nominal","scale":{"domain":["b","g"],"range":["#111111","#8a8a8a"]},"legend":null}}}
]},
{"width":613,"height":36,"layer":[
{"data":{"name":"CG3079"},"mark":{"type":"bar","width":8,"xOffset":4.4,"color":"#a0a0a0"},"encoding":{"x":{"field":"x","type":"quantitative","scale":{"domain":[0,105],"nice":false,"zero":false},"axis":{"values":[0,12,24,36,48,60,72,84,96],"title":"CG3079","titleX":-72,"titleY":-18}},"y":{"field":"y","type":"quantitative","scale":{"domain":[0,100],"nice":false},"axis":{"values":[0,50,100],"title":null}}}},
{"data":{"name":"cuts"},"mark":{"type":"rule","strokeDash":[7,5],"strokeWidth":1.8,"yOffset":-10,"y2Offset":10},"encoding":{"x":{"field":"pos","type":"quantitative"},"color":{"field":"k","type":"nominal","scale":{"domain":["b","g"],"range":["#111111","#8a8a8a"]},"legend":null}}}
]},
{"width":613,"height":36,"layer":[
{"data":{"name":"CG1602"},"mark":{"type":"bar","width":8,"xOffset":4.4,"color":"#a0a0a0"},"encoding":{"x":{"field":"x","type":"quantitative","scale":{"domain":[0,105],"nice":false,"zero":false},"axis":{"values":[0,12,24,36,48,60,72,84,96],"title":"CG1602","titleX":-72,"titleY":-18}},"y":{"field":"y","type":"quantitative","scale":{"domain":[0,100],"nice":false},"axis":{"values":[0,50,100],"title":"Short-1","titleAngle":0,"titleAlign":"right","titleBaseline":"middle","titleX":-124,"titleY":45.5,"titleFontSize":15,"titleFontWeight":"bold","titleColor":"#111"}}}},
{"data":{"name":"cuts"},"mark":{"type":"rule","strokeDash":[7,5],"strokeWidth":1.8,"yOffset":-10,"y2Offset":10},"encoding":{"x":{"field":"pos","type":"quantitative"},"color":{"field":"k","type":"nominal","scale":{"domain":["b","g"],"range":["#111111","#8a8a8a"]},"legend":null}}}
]},
{"width":613,"height":36,"layer":[
{"data":{"name":"CG3011"},"mark":{"type":"bar","width":8,"xOffset":4.4,"color":"#a0a0a0"},"encoding":{"x":{"field":"x","type":"quantitative","scale":{"domain":[0,105],"nice":false,"zero":false},"axis":{"values":[0,12,24,36,48,60,72,84,96],"title":"CG3011","titleX":-72,"titleY":-18}},"y":{"field":"y","type":"quantitative","scale":{"domain":[0,100],"nice":false},"axis":{"values":[0,50,100],"title":["⎧","⎪","⎪","⎪","⎪","⎪","⎨","⎪","⎪","⎪","⎪","⎪","⎩"],"titleAngle":0,"titleAlign":"center","titleBaseline":"middle","titleX":-99,"titleY":-93.5,"titleFontSize":18,"titleLineHeight":14,"titleFont":"DejaVu Sans","titleFontWeight":"bold","titleColor":"#111"}}}},
{"data":{"name":"cuts"},"mark":{"type":"rule","strokeDash":[7,5],"strokeWidth":1.8,"yOffset":-10,"y2Offset":10},"encoding":{"x":{"field":"pos","type":"quantitative"},"color":{"field":"k","type":"nominal","scale":{"domain":["b","g"],"range":["#111111","#8a8a8a"]},"legend":null}}}
]},
{"width":613,"height":36,"layer":[
{"data":{"name":"CG3007"},"mark":{"type":"bar","width":8,"xOffset":4.4,"color":"#a0a0a0"},"encoding":{"x":{"field":"x","type":"quantitative","scale":{"domain":[0,105],"nice":false,"zero":false},"axis":{"values":[0,12,24,36,48,60,72,84,96],"labels":true,"labelExpr":"datum.value + 'k'","title":"CG3007","titleX":-72,"titleY":-18}},"y":{"field":"y","type":"quantitative","scale":{"domain":[0,100],"nice":false},"axis":{"values":[0,50,100],"title":"Reads depth"}}}},
{"data":{"name":"cuts"},"mark":{"type":"rule","strokeDash":[7,5],"strokeWidth":1.8,"yOffset":-10,"y2Offset":40},"encoding":{"x":{"field":"pos","type":"quantitative"},"color":{"field":"k","type":"nominal","scale":{"domain":["b","g"],"range":["#111111","#8a8a8a"]},"legend":null}}}
]}
]
}
